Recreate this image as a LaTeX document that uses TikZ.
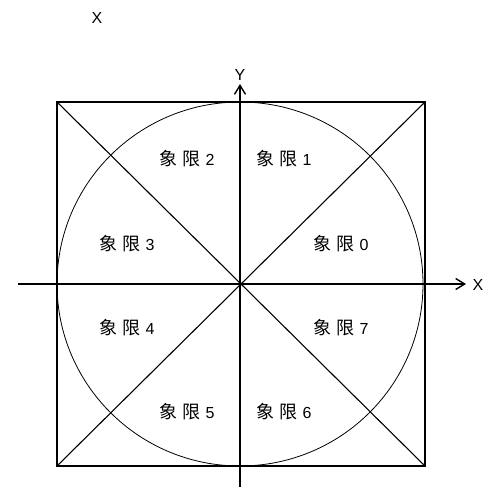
\documentclass[tikz,border=0pt]{standalone}
\usepackage{fontspec}
\setmainfont{Liberation Sans}
\newfontfamily\cjk{Noto Sans CJK SC}
\usetikzlibrary{arrows.meta}
\newcommand{\qlab}[1]{{\fontsize{18}{20}\selectfont\cjk 象}\hspace{5pt}{\fontsize{18}{20}\selectfont\cjk 限}\hspace{5pt}#1}
\begin{document}
\begin{tikzpicture}[x=1pt,y=-1pt,
  axis/.style={line width=1.8pt,-{Straight Barb[length=9pt,width=11pt,line width=1.4pt]}},
  frame/.style={line width=1.8pt},
  diag/.style={line width=1.1pt},
  ring/.style={line width=0.8pt},
  lbl/.style={font=\fontsize{16}{18}\selectfont, inner sep=1pt},
  axlbl/.style={font=\fontsize{16}{18}\selectfont, inner sep=1pt}]
\useasboundingbox (0,0) rectangle (491,488);
\coordinate (O) at (240,284);
\coordinate (TL) at (57,102);
\coordinate (TR) at (425,102);
\coordinate (BR) at (425,466);
\coordinate (BL) at (57,466);
\coordinate (xs) at (18,284);
\coordinate (xe) at (466,284);
\coordinate (ys) at (240,487);
\coordinate (ye) at (240,84);
\draw[frame] (TL) -- (TR) -- (BR) -- (BL) -- cycle;
\draw[ring] (O) circle[x radius=183pt, y radius=182pt];
\draw[diag] (TL) -- (BR);
\draw[diag] (TR) -- (BL);
\draw[axis] (xs) -- (xe);
\draw[axis] (ys) -- (ye);
\node[axlbl] (xlab) at (478,285) {X};
\node[axlbl] (ylab) at (240,75) {Y};
\node[axlbl] (xtop) at (97,18) {X};
\node[lbl] (q2) at (187,159) {\qlab{2}};
\node[lbl] (q1) at (284,159) {\qlab{1}};
\node[lbl] (q3) at (127,244) {\qlab{3}};
\node[lbl] (q0) at (341,244) {\qlab{0}};
\node[lbl] (q4) at (127,328) {\qlab{4}};
\node[lbl] (q7) at (341,328) {\qlab{7}};
\node[lbl] (q5) at (187,412) {\qlab{5}};
\node[lbl] (q6) at (284,412) {\qlab{6}};
\end{tikzpicture}
\end{document}
